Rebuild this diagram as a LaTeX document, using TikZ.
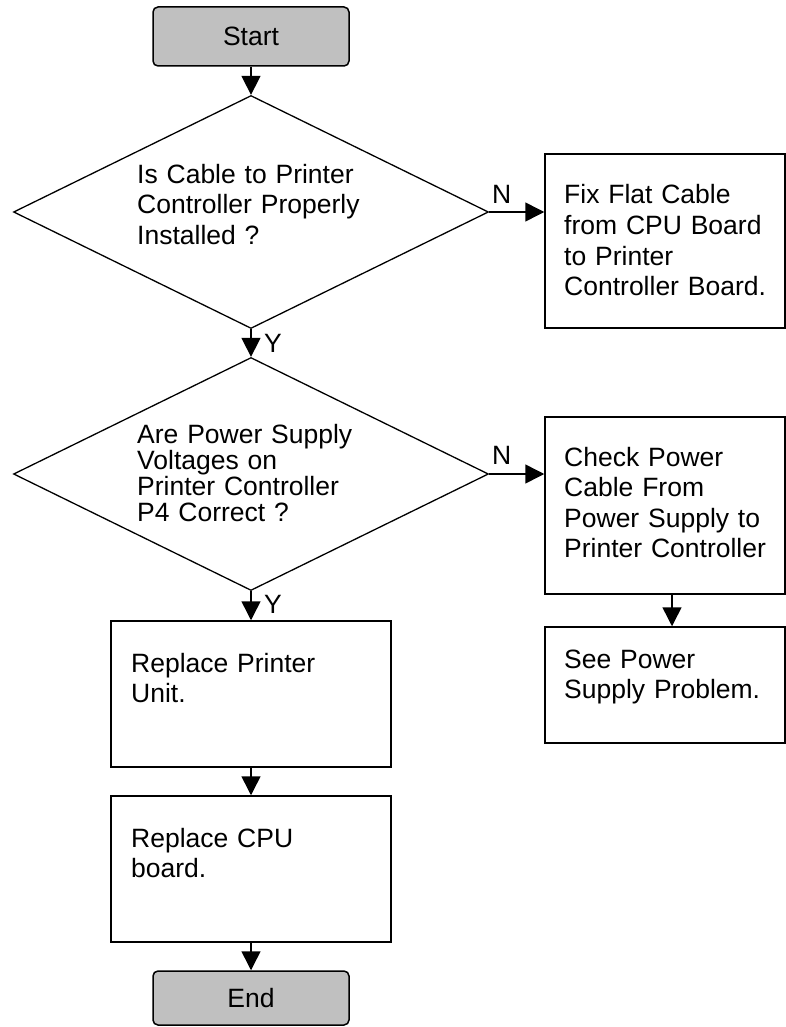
\documentclass[tikz,border=0pt]{standalone}
\usepackage{fontspec}
\setmainfont{Liberation Sans}
\usetikzlibrary{arrows.meta,shapes.geometric}
\definecolor{termgray}{HTML}{C0C0C0}
\begin{document}
\begin{tikzpicture}[x=1pt,y=-1pt,
  term/.style={draw, line width=1.5pt, fill=termgray, rounded corners=5pt, inner sep=0pt,
    font=\fontsize{26.5}{30.6}\selectfont},
  decision/.style={draw, diamond, line width=1.3pt, inner sep=0pt, minimum width=475pt, minimum height=233pt},
  procbox/.style={draw, rectangle, line width=1.5pt, inner sep=0pt},
  txt/.style={anchor=base west, inner sep=0pt, text width=300pt, align=left,
    font=\fontsize{26.5}{30.6}\selectfont},
  txttight/.style={txt, font=\fontsize{26.5}{26.3}\selectfont},
  lbl/.style={anchor=base west, inner sep=0pt, font=\fontsize{26.5}{30.6}\selectfont},
  arr/.style={line width=1.5pt, -{Triangle[length=19pt,width=19pt]}}
]
\useasboundingbox (0,0) rectangle (786,1027);

% terminals
\node[term, minimum width=196pt, minimum height=59pt] (start) at (251,36.5) {Start};
\node[term, minimum width=196pt, minimum height=54pt] (end) at (251,998) {End};

% decisions
\node[decision] (q1) at (251,212) {};
\node[decision] (q2) at (251,474) {};

% process boxes
\node[procbox, minimum width=240pt, minimum height=174pt] (fix) at (665,241) {};
\node[procbox, minimum width=240pt, minimum height=177pt] (check) at (665,505.5) {};
\node[procbox, minimum width=240pt, minimum height=116pt] (see) at (665,685) {};
\node[procbox, minimum width=280pt, minimum height=146pt] (rp) at (251,694) {};
\node[procbox, minimum width=280pt, minimum height=146pt] (cpu) at (251,869) {};

% texts
\node[txt] (q1t) at (137,183) {Is Cable to Printer\\Controller Properly\\Installed ?};
\node[txttight] (q2t) at (137,443) {Are Power Supply\\Voltages on\\Printer Controller\\P4 Correct ?};
\node[txt] (fixt) at (564,204) {Fix Flat Cable\\from CPU Board\\to Printer\\Controller Board.};
\node[txt] (checkt) at (564,466) {Check Power\\Cable From\\Power Supply to\\Printer Controller};
\node[txt] (seet) at (564,668) {See Power\\Supply Problem.};
\node[txt] (rpt) at (131,672) {Replace Printer\\Unit.};
\node[txt] (cput) at (131,847) {Replace CPU\\board.};

% labels
\node[lbl] (n1) at (492,203) {N};
\node[lbl] (n2) at (492,464) {N};
\node[lbl] (y1) at (264,352) {Y};
\node[lbl] (y2) at (264,613) {Y};

% connectors
\draw[arr] (start) -- (q1);
\draw[arr] (q1) -- (q2);
\draw[arr] (q2) -- (rp);
\draw[arr] (rp) -- (cpu);
\draw[arr] (cpu) -- (end);
\draw[arr] (q1.east) -- (q1.east -| fix.west);
\draw[arr] (q2.east) -- (q2.east -| check.west);
\draw[arr] ([xshift=7pt]check.south) -- ([xshift=7pt]see.north);
\end{tikzpicture}
\end{document}
